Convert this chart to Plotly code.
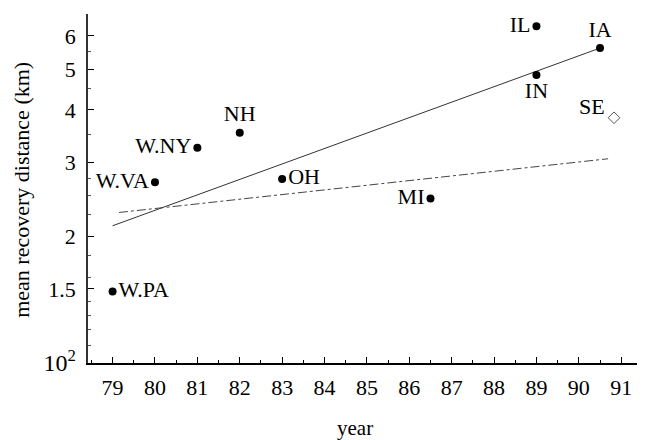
import math
import plotly.graph_objects as go

# data
states = ["W.PA", "W.VA", "W.NY", "NH", "OH", "MI", "IL", "IN", "IA"]
years = [79, 80, 81, 82, 83, 86.5, 89, 89, 90.5]
distances = [1.48, 2.69, 3.25, 3.53, 2.74, 2.46, 6.32, 4.84, 5.61]
label_pos = ["middle right", "middle left", "middle left", "top center", "middle right",
             "middle left", "middle left", "bottom center", "top center"]

se_label = ["SE"]
se_year = [90.83]
se_distance = [3.83]

fit_solid_x = [79.0, 90.5]
fit_solid_y = [2.12, 5.61]
fit_dash_x = [79.15, 90.69]
fit_dash_y = [2.28, 3.06]

x_ticks = list(range(79, 92))
y_ticks = [1, 1.5, 2, 3, 4, 5, 6]
y_ticktext = ["<span style='font-size:24px'>10<sup>2</sup></span>", "1.5", "2", "3", "4", "5", "6"]
y_minor = [1.1, 1.2, 1.3, 1.4, 1.6, 1.8, 2.25, 2.5, 2.75, 3.5, 4.5, 5.5]
x_minor = [y + 0.5 for y in range(78, 92)]

FONT = "Liberation Serif, Times New Roman, serif"

fig = go.Figure()
fig.add_trace(go.Scatter(x=fit_solid_x, y=fit_solid_y, mode="lines",
                         line=dict(color="#333333", width=1), hoverinfo="skip"))
fig.add_trace(go.Scatter(x=fit_dash_x, y=fit_dash_y, mode="lines",
                         line=dict(color="#444444", width=1, dash="dashdot"), hoverinfo="skip"))
fig.add_trace(go.Scatter(x=years, y=distances, mode="markers+text", text=states,
                         textposition=label_pos,
                         textfont=dict(family=FONT, size=22, color="black"),
                         marker=dict(color="black", size=8)))
fig.add_trace(go.Scatter(x=se_year, y=se_distance, mode="markers",
                         marker=dict(symbol="diamond-open", color="#555555", size=9,
                                     line=dict(width=1))))

annotations = [
    dict(text=se_label[0], x=se_year[0], y=math.log10(se_distance[0]), xref="x", yref="y",
         xanchor="right", yanchor="middle", xshift=-7, yshift=11, showarrow=False,
         font=dict(family=FONT, size=22)),
    dict(text="year", xref="paper", yref="paper", x=0.473, y=-0.186,
         xanchor="center", yanchor="middle", showarrow=False,
         font=dict(family=FONT, size=21)),
    dict(text="mean recovery distance (km)", xref="paper", yref="paper",
         x=-0.117, y=0.496, xanchor="center", yanchor="middle", textangle=-90,
         showarrow=False, font=dict(family=FONT, size=22)),
]

fig.update_layout(
    width=645, height=440,
    margin=dict(l=80, r=0, t=6, b=85),
    paper_bgcolor="white", plot_bgcolor="white",
    showlegend=False,
    font=dict(family=FONT, size=22, color="black"),
    annotations=annotations,
)
fig.update_xaxes(
    range=[78.42, 91.75], tickvals=x_ticks, ticktext=[str(v) for v in x_ticks],
    ticks="inside", ticklen=6, tickcolor="black", tickwidth=1,
    showline=True, linecolor="black", linewidth=1.5, showgrid=False, zeroline=False,
    ticklabelstandoff=4, tickfont=dict(family=FONT, size=22), automargin=False,
    minor=dict(ticks="inside", tickvals=x_minor, ticklen=3, tickcolor="black", showgrid=False),
)
fig.update_yaxes(
    type="log", range=[0, 0.830], tickvals=y_ticks, ticktext=y_ticktext,
    ticks="inside", ticklen=6, tickcolor="black", tickwidth=1,
    showline=True, linecolor="#333333", linewidth=1.5, showgrid=False, zeroline=False,
    ticklabelstandoff=6, tickfont=dict(family=FONT, size=22), automargin=False,
    minor=dict(ticks="inside", tickvals=y_minor, ticklen=3, tickcolor="#555555", showgrid=False),
)

fig.write_html("out.html")
